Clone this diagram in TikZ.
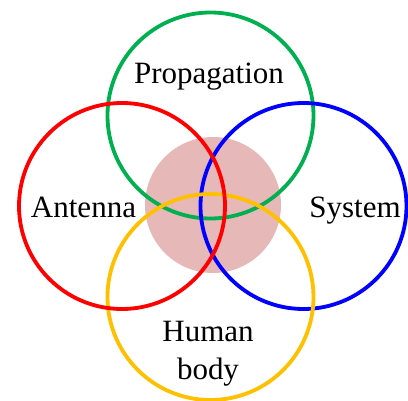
\documentclass[tikz,border=0pt]{standalone}
\usepackage{fontspec}
\setmainfont{Liberation Serif}
\definecolor{propgreen}{HTML}{00B050}
\definecolor{antred}{HTML}{FF0000}
\definecolor{sysblue}{HTML}{0000FF}
\definecolor{bodyyellow}{HTML}{FFC000}
\definecolor{corepink}{HTML}{E6B8B7}
\tikzset{
  ring/.style={circle,draw=#1,line width=3.8pt,minimum size=206pt,inner sep=0pt},
  lbl/.style={anchor=base,inner sep=0pt,font=\fontsize{31}{38}\selectfont}
}
\begin{document}
\begin{tikzpicture}[x=1pt,y=-1pt]
\useasboundingbox (0,0) rectangle (408,401);
\fill[corepink] (213,205) circle (68);
\node[ring=propgreen] (prop) at (210.5,115.5) {};
\node[ring=sysblue] (sys) at (303.5,206) {};
\node[ring=bodyyellow] (body) at (210.5,297) {};
\node[ring=antred] (ant) at (122,206) {};
\node[lbl] (proptext) at (209,84) {Propagation};
\node[lbl] (anttext) at (83.5,218) {Antenna};
\node[lbl] (systext) at (355,218) {System};
\node[lbl] (humantext) at (208,342) {Human};
\node[lbl] (bodytext) at (208,380) {body};
\end{tikzpicture}
\end{document}
